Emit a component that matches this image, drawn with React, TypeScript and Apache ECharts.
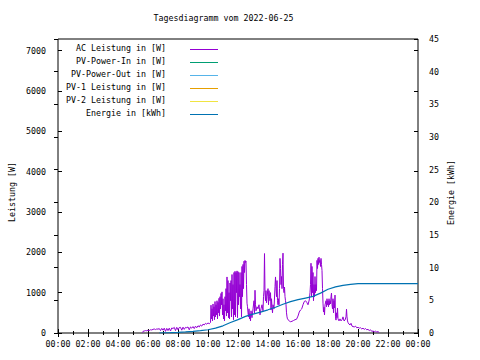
import React, { useEffect, useRef } from "react";
import * as echarts from "echarts";

const titleText = "Tagesdiagramm vom 2022-06-25";
const leftAxisName = "Leistung [W]";
const rightAxisName = "Energie [kWh]";
const legendNames = [
  "AC Leistung in [W]",
  "PV-Power-In in [W]",
  "PV-Power-Out in [W]",
  "PV-1 Leistung in [W]",
  "PV-2 Leistung in [W]",
  "Energie in [kWh]",
];
const seriesColors = ["#9400d3", "#009e73", "#56b4e9", "#e69f00", "#f0e442", "#0072b2"];

const powerMax = 7290;
const powerInterval = 1000;
const energyMax = 45;
const energyInterval = 5;

// AC power [time, W]
const acPower: [string, number][] = [
  ["05:38", 10], ["05:40", 40], ["05:45", 50], ["05:50", 60], ["05:55", 55], ["06:00", 70],
  ["06:05", 60], ["06:10", 80], ["06:15", 75], ["06:20", 90], ["06:25", 100], ["06:30", 85],
  ["06:35", 100], ["06:40", 95], ["06:45", 110], ["06:50", 60], ["06:55", 115], ["07:00", 70],
  ["07:05", 120], ["07:10", 40], ["07:15", 115], ["07:20", 60], ["07:25", 120], ["07:30", 50],
  ["07:35", 125], ["07:40", 110], ["07:45", 140], ["07:50", 60], ["07:55", 140], ["08:00", 80],
  ["08:05", 135], ["08:10", 140], ["08:15", 70], ["08:20", 145], ["08:25", 90], ["08:30", 140],
  ["08:35", 130], ["08:40", 150], ["08:45", 80], ["08:50", 150], ["08:55", 120], ["09:00", 160],
  ["09:05", 110], ["09:10", 170], ["09:15", 130], ["09:20", 180], ["09:25", 150], ["09:30", 200],
  ["09:35", 170], ["09:40", 220], ["09:45", 200], ["09:50", 240], ["09:55", 220], ["10:00", 250],
  ["10:05", 230], ["10:10", 260],
  ["10:12", 690], ["10:14", 350], ["10:16", 600], ["10:18", 300], ["10:20", 720], ["10:22", 420],
  ["10:24", 650], ["10:26", 330], ["10:28", 780], ["10:30", 400], ["10:32", 700], ["10:34", 450],
  ["10:36", 800], ["10:38", 350], ["10:40", 760], ["10:42", 500], ["10:44", 860], ["10:46", 420],
  ["10:48", 900], ["10:50", 600], ["10:52", 980], ["10:54", 700], ["10:56", 1020], ["10:58", 450],
  ["11:00", 850], ["11:02", 350], ["11:04", 700], ["11:06", 300], ["11:08", 900], ["11:10", 550],
  ["11:12", 1100], ["11:14", 420], ["11:16", 1390], ["11:18", 500], ["11:20", 1300], ["11:22", 380],
  ["11:24", 1000], ["11:26", 350], ["11:28", 1240], ["11:30", 800], ["11:32", 1300], ["11:34", 400],
  ["11:36", 1450], ["11:38", 600], ["11:40", 1200], ["11:42", 330], ["11:44", 1500], ["11:46", 450],
  ["11:48", 1530], ["11:50", 400], ["11:52", 1500], ["11:54", 1000], ["11:56", 1540], ["11:58", 380],
  ["12:00", 1520], ["12:02", 700], ["12:04", 1500], ["12:06", 900], ["12:08", 1200], ["12:10", 600],
  ["12:12", 1500], ["12:14", 400], ["12:16", 1650], ["12:18", 900], ["12:20", 1700], ["12:22", 1100],
  ["12:24", 1780], ["12:26", 1500], ["12:28", 1800], ["12:30", 1750], ["12:32", 1780], ["12:34", 1200],
  ["12:36", 740], ["12:38", 650], ["12:40", 500], ["12:42", 400], ["12:44", 600], ["12:46", 350],
  ["12:48", 480], ["12:50", 300], ["12:52", 550], ["12:54", 450], ["12:56", 380], ["13:00", 600],
  ["13:04", 800], ["13:06", 500], ["13:08", 1060], ["13:10", 700], ["13:12", 550], ["13:16", 650],
  ["13:20", 600], ["13:24", 700], ["13:28", 450], ["13:32", 600], ["13:36", 700], ["13:40", 550],
  ["13:42", 900], ["13:44", 1050], ["13:46", 1970], ["13:48", 1000], ["13:50", 800], ["13:52", 1050],
  ["13:54", 750], ["13:56", 900], ["14:00", 1100], ["14:02", 700], ["14:04", 1050], ["14:06", 900],
  ["14:08", 800], ["14:10", 1000], ["14:12", 570], ["14:14", 850], ["14:16", 650], ["14:18", 500],
  ["14:20", 700], ["14:24", 600], ["14:28", 1150], ["14:30", 1390], ["14:32", 1100], ["14:34", 900],
  ["14:36", 1300], ["14:38", 800], ["14:40", 700], ["14:42", 850], ["14:44", 700], ["14:46", 1100],
  ["14:48", 1850], ["14:50", 1600], ["14:52", 1200], ["14:54", 1400], ["14:56", 1100], ["14:58", 1700],
  ["15:00", 1980], ["15:02", 1100], ["15:04", 1000], ["15:06", 1140], ["15:08", 900], ["15:10", 800],
  ["15:12", 700], ["15:14", 500], ["15:16", 400], ["15:18", 350], ["15:22", 320], ["15:26", 290],
  ["15:30", 280], ["15:36", 290], ["15:42", 310], ["15:48", 330], ["15:54", 340], ["16:00", 420],
  ["16:05", 520], ["16:10", 570], ["16:15", 600], ["16:20", 700], ["16:25", 780], ["16:30", 800],
  ["16:35", 760], ["16:40", 700], ["16:45", 820], ["16:48", 1000], ["16:50", 1200], ["16:52", 1730],
  ["16:54", 900], ["16:56", 1650], ["16:58", 1000], ["17:00", 1500], ["17:02", 800], ["17:04", 1200],
  ["17:06", 900], ["17:08", 1400], ["17:10", 1000], ["17:12", 1200], ["17:14", 1050], ["17:16", 1800],
  ["17:18", 1600], ["17:20", 1850], ["17:22", 1700], ["17:24", 1880], ["17:26", 1750], ["17:28", 1800],
  ["17:30", 1650], ["17:32", 1850], ["17:34", 1700], ["17:36", 1550], ["17:38", 1100], ["17:40", 740],
  ["17:42", 520], ["17:44", 640], ["17:46", 450], ["17:48", 700], ["17:52", 800], ["17:54", 650],
  ["17:56", 850], ["17:58", 700], ["18:00", 800], ["18:02", 650], ["18:04", 850], ["18:06", 700],
  ["18:08", 800], ["18:10", 720], ["18:12", 900], ["18:14", 990], ["18:16", 700], ["18:18", 600],
  ["18:20", 850], ["18:22", 500], ["18:24", 800], ["18:26", 620], ["18:28", 940], ["18:30", 400],
  ["18:32", 320], ["18:34", 500], ["18:36", 380], ["18:38", 620], ["18:40", 350], ["18:44", 300],
  ["18:48", 350], ["18:52", 300], ["18:56", 330], ["19:00", 400], ["19:04", 300], ["19:08", 320],
  ["19:12", 400], ["19:14", 590], ["19:16", 400], ["19:18", 300], ["19:20", 260], ["19:24", 220],
  ["19:28", 200], ["19:32", 240], ["19:36", 170], ["19:40", 160], ["19:45", 150], ["19:50", 170],
  ["19:55", 130], ["20:00", 140], ["20:05", 120], ["20:10", 130], ["20:15", 100], ["20:20", 120],
  ["20:25", 90], ["20:30", 110], ["20:35", 80], ["20:40", 90], ["20:45", 60], ["20:50", 80],
  ["20:55", 40], ["21:00", 50], ["21:05", 30], ["21:10", 45], ["21:15", 25], ["21:20", 35],
  ["21:25", 10],
];

// Energy [time, kWh]
const energy: [string, number][] = [
  ["06:45", 0], ["07:30", 0.05], ["08:00", 0.1], ["08:30", 0.17], ["09:00", 0.25], ["09:30", 0.35],
  ["10:00", 0.5], ["10:30", 0.75], ["11:00", 1.1], ["11:30", 1.6], ["12:00", 2.05], ["12:30", 2.55],
  ["13:00", 2.9], ["13:30", 3.2], ["14:00", 3.55], ["14:30", 3.95], ["15:00", 4.4], ["15:30", 4.8],
  ["16:00", 5.1], ["16:30", 5.35], ["17:00", 5.6], ["17:30", 6.1], ["18:00", 6.7], ["18:30", 7.05],
  ["19:00", 7.3], ["19:30", 7.45], ["20:00", 7.55], ["24:00", 7.55],
];

const FONT = '"DejaVu Sans Mono", monospace';
const FS = 8.3;

const toHours = (s: string) => {
  const [h, m] = s.split(":").map(Number);
  return h + m / 60;
};
const pad = (n: number) => (n < 10 ? "0" + n : "" + n);

export default function App() {
  const ref = useRef<HTMLDivElement>(null);
  useEffect(() => {
    if (!ref.current) return;
    const chart = echarts.init(ref.current, undefined, { renderer: "svg" });

    const tickStyle = { color: "#000", width: 1 };
    const labelBase = { fontFamily: FONT, fontSize: FS, color: "#000" };

    const xBase = {
      type: "value",
      min: 0,
      max: 24,
      interval: 2,
      axisLine: { show: false },
      splitLine: { show: false },
      axisTick: { show: true, inside: true, length: 4, lineStyle: tickStyle },
      minorTick: { show: true, splitNumber: 2, length: 2, lineStyle: tickStyle },
      minorSplitLine: { show: false },
    };

    const legendGraphics: any[] = [];
    legendNames.forEach((name, i) => {
      const yLine = 49.5 + i * 13;
      legendGraphics.push({
        type: "text",
        x: 166,
        y: yLine - 2,
        style: {
          text: name,
          fill: "#000",
          fontFamily: FONT,
          fontSize: FS,
          align: "right",
          verticalAlign: "middle",
          textAlign: "right",
          textVerticalAlign: "middle",
        },
      });
      legendGraphics.push({
        type: "line",
        shape: { x1: 190, y1: yLine, x2: 218, y2: yLine },
        style: { stroke: seriesColors[i], lineWidth: 1 },
      });
    });

    const emptySeries = [1, 2, 3, 4].map((i) => ({
      name: legendNames[i],
      type: "line",
      xAxisIndex: 0,
      yAxisIndex: 0,
      data: [] as number[][],
      showSymbol: false,
      lineStyle: { color: seriesColors[i], width: 1 },
    }));

    const plain = (v: number) => String(v);

    chart.setOption({
      animation: false,
      backgroundColor: "#fff",
      grid: {
        left: 58,
        right: 62,
        top: 39,
        bottom: 27,
        show: true,
        borderColor: "#000",
        borderWidth: 1,
        backgroundColor: "transparent",
        containLabel: false,
      },
      xAxis: [
        {
          ...xBase,
          position: "bottom",
          axisLabel: {
            ...labelBase,
            margin: 7,
            showMinLabel: true,
            showMaxLabel: true,
            formatter: (v: number) => pad(v % 24) + ":00",
          },
        },
        { ...xBase, position: "top", axisLabel: { show: false } },
      ],
      yAxis: [
        {
          type: "value",
          position: "left",
          min: 0,
          max: powerMax,
          interval: powerInterval,
          axisLine: { show: false },
          splitLine: { show: false },
          axisTick: { show: true, inside: true, length: 4, lineStyle: tickStyle },
          axisLabel: { ...labelBase, margin: 12, padding: [0, 0, 4, 0], showMaxLabel: false, formatter: plain },
        },
        {
          type: "value",
          position: "right",
          min: 0,
          max: energyMax,
          interval: energyInterval,
          axisLine: { show: false },
          splitLine: { show: false },
          axisTick: { show: true, inside: true, length: 4, lineStyle: tickStyle },
          axisLabel: { ...labelBase, margin: 11, padding: [0, 0, 4, 0], formatter: plain },
        },
        {
          type: "value",
          position: "right",
          offset: 0,
          min: 0,
          max: powerMax,
          interval: powerInterval,
          axisLine: { show: false },
          splitLine: { show: false },
          axisTick: { show: true, inside: true, length: 4, lineStyle: tickStyle },
          axisLabel: { show: false },
        },
      ],
      series: [
        {
          name: legendNames[0],
          type: "line",
          xAxisIndex: 0,
          yAxisIndex: 0,
          data: acPower.map(([t, v]) => [toHours(t), v]),
          showSymbol: false,
          lineStyle: { color: seriesColors[0], width: 1 },
          itemStyle: { color: seriesColors[0] },
        },
        ...emptySeries,
        {
          name: legendNames[5],
          type: "line",
          xAxisIndex: 0,
          yAxisIndex: 1,
          data: energy.map(([t, v]) => [toHours(t), v]),
          showSymbol: false,
          lineStyle: { color: seriesColors[5], width: 1.2 },
          itemStyle: { color: seriesColors[5] },
        },
      ],
      graphic: [
        {
          type: "text",
          x: 223.5,
          y: 18,
          style: {
            text: titleText,
            fill: "#000",
            fontFamily: FONT,
            fontSize: FS,
            align: "center",
            verticalAlign: "middle",
            textAlign: "center",
            textVerticalAlign: "middle",
          },
        },
        {
          type: "text",
          x: 11.5,
          y: 192,
          rotation: Math.PI / 2,
          style: {
            text: leftAxisName,
            fill: "#000",
            fontFamily: FONT,
            fontSize: FS,
            align: "center",
            verticalAlign: "middle",
            textAlign: "center",
            textVerticalAlign: "middle",
          },
        },
        {
          type: "text",
          x: 451,
          y: 192.5,
          rotation: Math.PI / 2,
          style: {
            text: rightAxisName,
            fill: "#000",
            fontFamily: FONT,
            fontSize: FS,
            align: "center",
            verticalAlign: "middle",
            textAlign: "center",
            textVerticalAlign: "middle",
          },
        },
        ...legendGraphics,
      ],
    });

    return () => chart.dispose();
  }, []);

  return (
    <div
      ref={ref}
      style={{ position: "fixed", left: 0, top: 0, width: 480, height: 360, background: "#fff" }}
    />
  );
}
